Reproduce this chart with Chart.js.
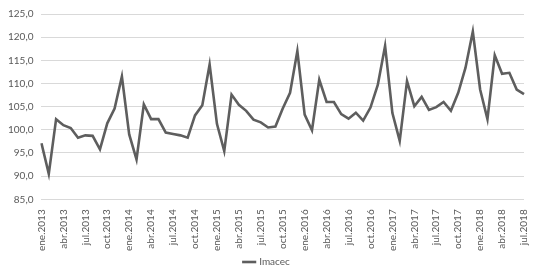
<!DOCTYPE html>
<html>
<head>
<meta charset="utf-8">
<script src="https://cdn.jsdelivr.net/npm/chart.js@4"></script>
<style>
  html, body { margin: 0; padding: 0; background: #fff; }
  #wrap { width: 538px; height: 279px; }
</style>
</head>
<body>
<div id="wrap"><canvas id="chart"></canvas></div>
<script>
// months and years for the category axis
const months = ["ene", "feb", "mar", "abr", "may", "jun", "jul", "ago", "sep", "oct", "nov", "dic"];
const years = [2013, 2014, 2015, 2016, 2017, 2018];

// Imacec values, one row per year
const imacec2013 = [97.1, 90.5, 102.3, 101.0, 100.4, 98.3, 98.8, 98.7, 95.8, 101.4, 104.6, 111.5];
const imacec2014 = [99.0, 93.6, 105.5, 102.3, 102.3, 99.4, 99.1, 98.8, 98.3, 103.1, 105.3, 114.1];
const imacec2015 = [101.3, 95.4, 107.6, 105.4, 104.1, 102.2, 101.6, 100.5, 100.7, 104.6, 108.0, 117.0];
const imacec2016 = [103.3, 99.9, 110.8, 106.0, 106.0, 103.4, 102.4, 103.7, 102.0, 104.8, 109.7, 118.1];
const imacec2017 = [103.6, 97.6, 110.5, 105.1, 107.1, 104.3, 104.9, 106.0, 104.1, 108.0, 113.4, 121.2];
const imacec2018 = [108.7, 102.3, 116.1, 112.1, 112.3, 108.7, 107.7];

// y axis range
const yMin = 85;
const yMax = 125;
const yStep = 5;

// Build labels and data
const labels = [];
years.forEach((y) => {
  months.forEach((m) => labels.push(`${m}.${y}`));
});
const values = [].concat(imacec2013, imacec2014, imacec2015, imacec2016, imacec2017, imacec2018);
labels.length = values.length;

const textColor = "#595959";
const fontFamily = "Lato, 'Liberation Sans', sans-serif";

document.addEventListener("DOMContentLoaded", () => {
  const ctx = document.getElementById("chart").getContext("2d");
  new Chart(ctx, {
    type: "line",
    data: {
      labels: labels,
      datasets: [
        {
          label: "Imacec",
          data: values,
          borderColor: "#5e5e5e",
          backgroundColor: "#5e5e5e",
          borderWidth: 2.6,
          pointRadius: 0,
          tension: 0,
        },
      ],
    },
    options: {
      responsive: true,
      maintainAspectRatio: false,
      animation: false,
      layout: { padding: { top: 2, right: 4, left: 0, bottom: 2 } },
      plugins: {
        legend: {
          position: "bottom",
          labels: {
            color: textColor,
            font: { family: fontFamily, size: 10 },
            usePointStyle: true,
            pointStyle: "line",
            boxWidth: 20,
            padding: 4,
          },
        },
        tooltip: { enabled: false },
      },
      scales: {
        x: {
          offset: false,
          grid: { display: false },
          border: { display: false },
          ticks: {
            autoSkip: false,
            maxRotation: 90,
            minRotation: 90,
            color: textColor,
            font: { family: fontFamily, size: 10 },
            padding: 2,
            callback: function (val, index) {
              return index % 3 === 0 ? this.getLabelForValue(val) : "";
            },
          },
        },
        y: {
          min: yMin,
          max: yMax,
          grid: { color: "#d9d9d9", lineWidth: 1, drawTicks: false },
          border: { display: false },
          ticks: {
            stepSize: yStep,
            color: textColor,
            font: { family: fontFamily, size: 10 },
            padding: 8,
            callback: (v) => v.toFixed(1).replace(".", ","),
          },
        },
      },
    },
  });
});
</script>
</body>
</html>
